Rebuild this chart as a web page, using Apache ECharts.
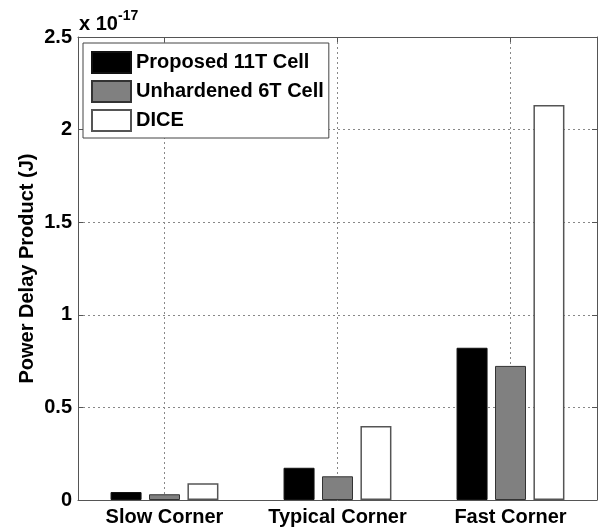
<!DOCTYPE html>
<html>
<head>
<meta charset="utf-8">
<script src="https://cdn.jsdelivr.net/npm/echarts@6/dist/echarts.min.js"></script>
<style>html,body{margin:0;padding:0;background:#fff;}#c{width:601px;height:529px;}</style>
</head>
<body>
<div id="c"></div>
<script>
const categories = ['Slow Corner', 'Typical Corner', 'Fast Corner'];
const seriesNames = ['Proposed 11T Cell', 'Unhardened 6T Cell', 'DICE'];
const proposed11T = [0.043, 0.174, 0.822];
const unhardened6T = [0.031, 0.128, 0.724];
const dice = [0.090, 0.400, 2.133];
const yTicks = { min: 0, max: 2.5, interval: 0.5 };

const FONT = "'Liberation Sans', Arial, Helvetica, sans-serif";
const frameColor = '#555';
const gridLine = { show: true, lineStyle: { color: '#888', type: [2, 3], width: 1 } };

const chart = echarts.init(document.getElementById('c'), null, { renderer: 'canvas' });
const fills = ['#000000', '#808080', '#ffffff'];
const borders = ['#111111', '#333333', '#555555'];
const data = [proposed11T, unhardened6T, dice];

chart.setOption({
  backgroundColor: '#fff',
  animation: false,
  grid: { left: 78, right: 4, top: 37, bottom: 29 },
  legend: {
    orient: 'vertical',
    left: 83, top: 43,
    padding: [8, 5, 6, 8],
    itemWidth: 39, itemHeight: 21, itemGap: 6,
    backgroundColor: '#fff',
    borderColor: '#444', borderWidth: 1,
    borderRadius: 0,
    icon: 'rect',
    textStyle: { fontFamily: FONT, fontWeight: 'bold', fontSize: 20, color: '#000' },
    data: seriesNames
  },
  xAxis: [
    {
      type: 'category', data: categories, position: 'bottom',
      axisLine: { show: true, lineStyle: { color: frameColor, width: 1 } },
      axisTick: { show: false },
      axisLabel: { interval: 0, hideOverlap: false, fontFamily: FONT, fontWeight: 'bold', fontSize: 20, color: '#000', margin: 7 },
      splitLine: { show: false }
    },
    {
      type: 'value', min: 0.5, max: 3.5, splitNumber: 3, minInterval: 1, maxInterval: 1,
      position: 'top',
      axisLine: { show: true, onZero: false, lineStyle: { color: frameColor, width: 1 } },
      axisTick: { show: true, inside: true, length: 5, lineStyle: { color: frameColor } },
      axisLabel: { show: false },
      splitLine: Object.assign({ showMinLine: false, showMaxLine: false }, gridLine)
    }
  ],
  yAxis: [
    {
      type: 'value', min: yTicks.min, max: yTicks.max, interval: yTicks.interval,
      name: 'Power Delay Product (J)', nameLocation: 'middle', nameGap: 41, nameRotate: 90,
      nameMoveOverlap: false,
      nameTextStyle: { fontFamily: FONT, fontWeight: 'bold', fontSize: 20, color: '#000' },
      axisLine: { show: true, lineStyle: { color: frameColor, width: 1 } },
      axisTick: { show: true, inside: true, length: 5, lineStyle: { color: frameColor } },
      axisLabel: { fontFamily: FONT, fontWeight: 'bold', fontSize: 20, color: '#000', margin: 6 },
      splitLine: Object.assign({ showMinLine: false, showMaxLine: false }, gridLine)
    },
    {
      type: 'value', min: yTicks.min, max: yTicks.max, interval: yTicks.interval, position: 'right',
      axisLine: { show: true, lineStyle: { color: frameColor, width: 1 } },
      axisTick: { show: true, inside: true, length: 5, lineStyle: { color: frameColor } },
      axisLabel: { show: false },
      splitLine: { show: false }
    }
  ],
  graphic: [
    { type: 'text', left: 79, top: 14, style: { text: 'x 10', font: 'bold 20px ' + FONT, fill: '#000' } },
    { type: 'text', left: 118, top: 9, style: { text: '-17', font: 'bold 14px ' + FONT, fill: '#000' } }
  ],
  series: seriesNames.map((name, i) => ({
    name, type: 'bar', xAxisIndex: 0, yAxisIndex: 0,
    data: data[i],
    barWidth: 31, barGap: '24%',
    itemStyle: { color: fills[i], borderColor: borders[i], borderWidth: i === 2 ? 1.5 : 1 }
  }))
});
</script>
</body>
</html>
